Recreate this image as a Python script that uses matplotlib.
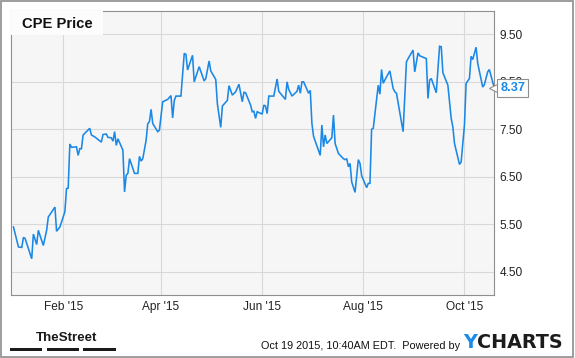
import matplotlib
matplotlib.use('Agg')
import matplotlib.pyplot as plt
import matplotlib.dates as mdates
from matplotlib.patches import Rectangle
import pandas as pd

# Price data (vertices of the line)
dates = [
    "2015-01-02", "2015-01-05", "2015-01-07", "2015-01-08", "2015-01-09", "2015-01-13",
    "2015-01-14", "2015-01-16", "2015-01-17", "2015-01-20", "2015-01-22", "2015-01-23",
    "2015-01-27", "2015-01-28", "2015-01-30", "2015-02-02", "2015-02-03", "2015-02-04",
    "2015-02-05", "2015-02-06", "2015-02-09", "2015-02-10", "2015-02-11", "2015-02-12",
    "2015-02-13", "2015-02-17", "2015-02-18", "2015-02-20", "2015-02-24", "2015-02-25",
    "2015-02-27", "2015-02-28", "2015-03-02", "2015-03-03", "2015-03-04", "2015-03-05",
    "2015-03-06", "2015-03-09", "2015-03-10", "2015-03-11", "2015-03-12", "2015-03-13",
    "2015-03-16", "2015-03-18", "2015-03-19", "2015-03-20", "2015-03-21", "2015-03-23",
    "2015-03-24", "2015-03-25", "2015-03-26", "2015-03-27", "2015-03-30", "2015-03-31",
    "2015-04-02", "2015-04-05", "2015-04-07", "2015-04-08", "2015-04-09", "2015-04-10",
    "2015-04-13", "2015-04-15", "2015-04-16", "2015-04-17", "2015-04-20", "2015-04-21",
    "2015-04-24", "2015-04-27", "2015-04-28", "2015-04-30", "2015-05-01", "2015-05-04",
    "2015-05-05", "2015-05-07", "2015-05-08", "2015-05-11", "2015-05-12", "2015-05-13",
    "2015-05-14", "2015-05-16", "2015-05-18", "2015-05-20", "2015-05-21", "2015-05-22",
    "2015-05-25", "2015-05-26", "2015-05-27", "2015-05-28", "2015-05-29", "2015-06-01",
    "2015-06-02", "2015-06-03", "2015-06-04", "2015-06-05", "2015-06-08", "2015-06-10",
    "2015-06-11", "2015-06-15", "2015-06-16", "2015-06-17", "2015-06-19", "2015-06-22",
    "2015-06-23", "2015-06-24", "2015-06-25", "2015-06-26", "2015-06-29", "2015-06-30",
    "2015-07-01", "2015-07-02", "2015-07-06", "2015-07-07", "2015-07-08", "2015-07-09",
    "2015-07-10", "2015-07-13", "2015-07-14", "2015-07-15", "2015-07-17", "2015-07-20",
    "2015-07-21", "2015-07-22", "2015-07-23", "2015-07-24", "2015-07-25", "2015-07-27",
    "2015-07-29", "2015-07-30", "2015-07-31", "2015-08-03", "2015-08-04", "2015-08-05",
    "2015-08-06", "2015-08-07", "2015-08-10", "2015-08-11", "2015-08-12", "2015-08-13",
    "2015-08-14", "2015-08-17", "2015-08-19", "2015-08-20", "2015-08-21", "2015-08-25",
    "2015-08-27", "2015-08-28", "2015-08-31", "2015-09-01", "2015-09-03", "2015-09-04",
    "2015-09-08", "2015-09-09", "2015-09-10", "2015-09-11", "2015-09-14", "2015-09-16",
    "2015-09-17", "2015-09-18", "2015-09-21", "2015-09-23", "2015-09-24", "2015-09-25",
    "2015-09-28", "2015-09-29", "2015-10-01", "2015-10-02", "2015-10-04", "2015-10-05",
    "2015-10-06", "2015-10-08", "2015-10-09", "2015-10-12", "2015-10-13", "2015-10-15",
    "2015-10-16", "2015-10-19",
]
prices = [
    5.44, 5.02, 5.01, 5.22, 5.20, 4.77,
    5.29, 5.07, 5.37, 5.05, 5.37, 5.65,
    5.86, 5.35, 5.44, 5.76, 6.25, 6.26,
    7.19, 7.12, 7.13, 6.95, 7.09, 7.09,
    7.38, 7.52, 7.38, 7.34, 7.23, 7.39,
    7.40, 7.33, 7.32, 7.25, 7.45, 7.16,
    7.30, 7.06, 6.18, 6.53, 6.57, 6.88,
    6.57, 6.57, 6.93, 6.83, 6.88, 7.27,
    7.62, 7.66, 7.92, 7.62, 7.45, 7.48,
    8.08, 8.13, 8.21, 7.74, 8.11, 8.20,
    8.20, 9.10, 9.08, 8.75, 9.06, 8.50,
    8.82, 8.52, 8.57, 8.94, 8.73, 8.55,
    8.03, 7.54, 7.99, 8.11, 8.42, 8.32,
    8.22, 8.29, 8.45, 8.08, 8.28, 8.27,
    8.01, 7.87, 7.88, 7.73, 7.87, 7.82,
    8.01, 7.99, 7.83, 8.20, 8.20, 8.56,
    8.30, 8.13, 8.50, 8.34, 8.20, 8.30,
    8.43, 8.26, 8.50, 8.50, 8.26, 8.32,
    7.62, 7.35, 6.95, 7.59, 7.13, 7.38,
    7.20, 7.32, 7.80, 7.20, 6.99, 6.88,
    6.86, 6.88, 6.71, 6.78, 6.39, 6.17,
    6.86, 6.78, 6.52, 6.27, 6.36, 6.36,
    7.50, 7.52, 8.43, 8.24, 8.76, 8.47,
    8.54, 8.73, 8.36, 8.29, 8.26, 7.45,
    8.92, 8.99, 9.17, 8.71, 9.11, 9.05,
    8.99, 8.15, 8.54, 8.57, 8.27, 9.25,
    9.24, 8.69, 8.43, 7.73, 7.55, 7.20,
    6.76, 6.81, 7.59, 8.47, 8.57, 9.04,
    8.97, 9.23, 8.89, 8.39, 8.44, 8.71,
    8.76, 8.37,
]
y_ticks = [4.5, 5.5, 6.5, 7.5, 8.5, 9.5]
x_ticks = ["2015-02-01", "2015-04-01", "2015-06-01", "2015-08-01", "2015-10-01"]

x = pd.to_datetime(dates)

W, H = 575, 358
fig = plt.figure(figsize=(W / 100, H / 100), dpi=100)
fig.patch.set_facecolor('white')

def fx(px):
    return px / W

def fy(py):
    return 1 - py / H

# Plot area (pixel box 10.5..494.3 x 10.7..295.3)
ax = fig.add_axes([fx(10.5), fy(295.3), fx(494.3 - 10.5), (295.3 - 10.7) / H])
ax.set_facecolor('#f6f6f6')

ax.plot(x, prices, color='#1a88e6', linewidth=1.15, solid_joinstyle='miter', zorder=3)

ax.set_ylim(4.0, 10.0)
ax.set_xlim(pd.Timestamp("2014-12-31 05:00"), pd.Timestamp("2015-10-19"))

ax.set_yticks(y_ticks)
ax.set_yticklabels([f"{v:.2f}" for v in y_ticks])
ax.yaxis.tick_right()
ax.set_xticks(pd.to_datetime(x_ticks))
ax.xaxis.set_major_formatter(mdates.DateFormatter("%b '%y"))

ax.tick_params(axis='both', length=0, labelsize=8.6, labelcolor='#222222')
ax.tick_params(axis='y', pad=3.8)
ax.tick_params(axis='x', pad=4.0)
for lab in ax.get_xticklabels() + ax.get_yticklabels():
    lab.set_family('Liberation Sans')

ax.grid(True, color='#d9d9d9', linewidth=0.8)
ax.set_axisbelow(True)
for sp in ax.spines.values():
    sp.set_color('#8f8f8f')
    sp.set_linewidth(0.8)

# Title box in the top-left corner
fig.patches.append(Rectangle((fx(11), fy(35)), fx(103 - 11), (35 - 11) / H,
                             transform=fig.transFigure, facecolor='#fcfcfc',
                             edgecolor='none', zorder=5))
fig.text(fx(21.5), fy(23.5), "CPE Price", fontsize=10.6, fontweight='bold',
         family='Liberation Sans', color='#111111', ha='left', va='center', zorder=6)

# Last value flag
last = prices[-1]
ax.plot([1.0], [last], transform=ax.get_yaxis_transform(), marker='<',
        markersize=7, markerfacecolor='white', markeredgecolor='#8f8f8f',
        markeredgewidth=0.8, clip_on=False, zorder=6)
ax.annotate(f"{last:.2f}", xy=(1.0, last), xycoords=ax.get_yaxis_transform(),
            xytext=(4.3, 0), textcoords='offset points', ha='left', va='center',
            fontsize=9.2, fontweight='bold', family='Liberation Sans', color='#1a88e6',
            bbox=dict(boxstyle='square,pad=0.22', facecolor='white',
                      edgecolor='#8f8f8f', linewidth=0.8), zorder=7)

# Footer: TheStreet logo
fig.text(fx(36), fy(341), "TheStreet", fontsize=9.6, fontweight='bold',
         family=['Liberation Sans Narrow', 'Liberation Sans'], color='#1a1a1a',
         ha='left', va='baseline')
for x0, x1 in [(10, 42), (47, 79), (83, 116)]:
    fig.patches.append(Rectangle((fx(x0), fy(350.5)), fx(x1 - x0), 3 / H,
                                 transform=fig.transFigure, facecolor='#1a1a1a',
                                 edgecolor='none'))

# Footer: timestamp and YCharts logo
fig.text(fx(460), fy(349), "Oct 19 2015, 10:40AM EDT.  Powered by", fontsize=7.8,
         family='Liberation Sans', color='#111111', ha='right', va='baseline')
y_logo = fig.text(fx(463), fy(348.5), "Y", fontsize=13.8, fontweight='bold',
                  family='DejaVu Sans', color='#1a8ce8', ha='left', va='baseline')
ax.annotate("CHARTS", xy=(1, 0), xycoords=y_logo, ha='left', va='bottom',
            fontsize=13.8, fontweight='bold', family='DejaVu Sans',
            color='#1c1c1c', annotation_clip=False)

# Outer frame
fig.patches.append(Rectangle((fx(1), fy(357)), fx(572), 356 / H,
                             transform=fig.transFigure, facecolor='none',
                             edgecolor='#8c8c8c', linewidth=1.2))

fig.savefig('out.png', dpi=100)
